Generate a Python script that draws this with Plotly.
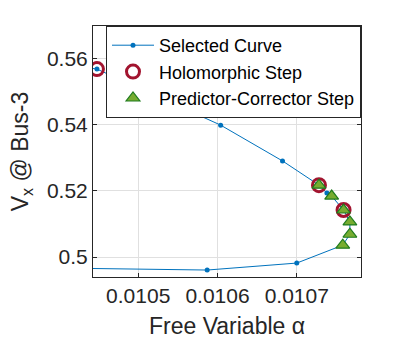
import plotly.graph_objects as go

FONT = "Liberation Sans, Arial, sans-serif"
AXIS_COLOR = "#262626"

# selected curve (ordered along the fold)
curve_alpha = [0.010400, 0.010448, 0.010604, 0.010682, 0.010728, 0.010738, 0.010744,
               0.010759, 0.010767, 0.010767, 0.010758, 0.010700, 0.010587, 0.010400]
curve_vx = [0.5585, 0.5567, 0.5398, 0.5290, 0.5217, 0.5193, 0.5184,
            0.5142, 0.5106, 0.5069, 0.5036, 0.4982, 0.4961, 0.4967]

# holomorphic step points
holo_alpha = [0.010448, 0.010728, 0.010759]
holo_vx = [0.5567, 0.5217, 0.5142]

# predictor-corrector step points
pc_alpha = [0.010728, 0.010744, 0.010759, 0.010767, 0.010767, 0.010758]
pc_vx = [0.5217, 0.5184, 0.5142, 0.5106, 0.5069, 0.5036]

x_ticks = [0.0105, 0.0106, 0.0107]
x_tick_text = ["0.0105", "0.0106", "0.0107"]
y_ticks = [0.50, 0.52, 0.54, 0.56]
y_tick_text = ["0.5", "0.52", "0.54", "0.56"]

fig = go.Figure()
fig.add_trace(go.Scatter(
	x=curve_alpha, y=curve_vx, mode="lines+markers", name="Selected Curve",
	line=dict(color="#0072BD", width=1),
	marker=dict(color="#0072BD", size=5),
))
fig.add_trace(go.Scatter(
	x=holo_alpha, y=holo_vx, mode="markers", name="Holomorphic Step",
	marker=dict(symbol="circle-open", color="#A2142F", size=13, line=dict(width=3, color="#A2142F")),
))
fig.add_trace(go.Scatter(
	x=pc_alpha, y=pc_vx, mode="markers", name="Predictor-Corrector Step",
	marker=dict(symbol="triangle-up", color="#77AC30", size=12, line=dict(width=1.2, color="#1E7B1E")),
))

fig.update_xaxes(
	range=[0.010443, 0.010781], tickvals=x_ticks, ticktext=x_tick_text,
	showgrid=True, gridcolor="#e0e0e0", zeroline=False, automargin=False,
	showline=True, linecolor=AXIS_COLOR, linewidth=1, mirror="ticks",
	ticks="inside", ticklen=4, tickcolor=AXIS_COLOR,
	tickfont=dict(size=21, color=AXIS_COLOR),
	title=dict(text="Free Variable α", font=dict(size=23, color=AXIS_COLOR), standoff=11),
)
fig.update_yaxes(
	range=[0.494, 0.5697], tickvals=y_ticks, ticktext=y_tick_text,
	showgrid=True, gridcolor="#e0e0e0", zeroline=False, automargin=False,
	showline=True, linecolor=AXIS_COLOR, linewidth=1, mirror="ticks",
	ticks="inside", ticklen=4, tickcolor=AXIS_COLOR,
	tickfont=dict(size=21, color=AXIS_COLOR),
	title=dict(text="V<sub>x</sub> @ Bus-3", font=dict(size=23, color=AXIS_COLOR), standoff=11),
)

fig.update_layout(
	width=399, height=343,
	margin=dict(l=93, r=38, t=26, b=66),
	paper_bgcolor="white", plot_bgcolor="white",
	font=dict(family=FONT, color=AXIS_COLOR),
	showlegend=True,
	legend=dict(
		x=1, y=1, xanchor="right", yanchor="top",
		bgcolor="white", bordercolor=AXIS_COLOR, borderwidth=1,
		font=dict(size=18, color="black"),
		tracegroupgap=0, itemwidth=42,
	),
)

# drop the browser's default body margin so the figure sits at the page corner
fig.write_html("out.html", config={"displayModeBar": False},
               post_script="document.body.style.margin='0';")
